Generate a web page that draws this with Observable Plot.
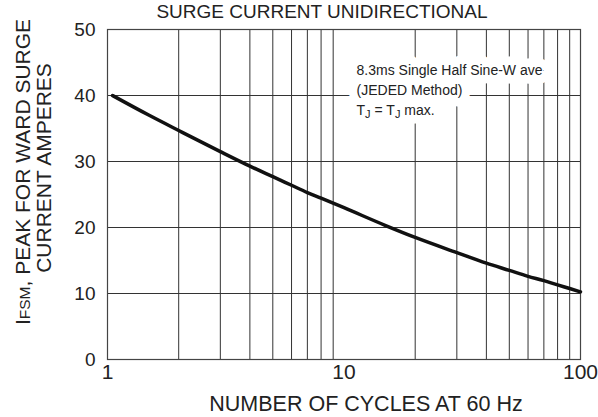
<!DOCTYPE html>
<html>
<head>
<meta charset="utf-8">
<script src="https://cdn.jsdelivr.net/npm/d3@7"></script>
<script src="https://cdn.jsdelivr.net/npm/@observablehq/plot@0.6"></script>
<style>
  html, body { margin: 0; padding: 0; background: #fff; }
  svg { font-family: "Liberation Sans", Arial, sans-serif; }
</style>
</head>
<body>
<div id="chart"></div>
<script>
// Data
const cycles  = [1.05, 1.5, 2, 3, 4, 5, 6, 7, 8, 10, 15, 20, 30, 40, 50, 60, 70, 80, 90, 100];
const current = [40, 37.0, 34.7, 31.5, 29.3, 27.7, 26.4, 25.3, 24.45, 23.0, 20.3, 18.5, 16.2, 14.6, 13.5, 12.6, 11.95, 11.3, 10.75, 10.25];
const xTicks = [1, 10, 100];
const yTicks = [0, 10, 20, 30, 40, 50];
const xGrid = [2, 3, 4, 5, 6, 7, 8, 9, 20, 30, 40, 50, 60, 70, 80, 90];
const yGrid = [10, 20, 30, 40];
const titleText = "SURGE CURRENT UNIDIRECTIONAL";
const xLabel = "NUMBER OF CYCLES AT 60 Hz";
const yLabel1 = ["I", "FSM", ", PEAK FOR WARD SURGE"];
const yLabel2 = "CURRENT AMPERES";
const noteLines = ["8.3ms Single Half Sine-W ave", "(JEDED Method)", "TJ = TJ max."];
const noteAt = {x: 11.3, y: 45.3};

const data = cycles.map((c, i) => ({c, v: current[i]}));
const note = [noteLines.join("\n")];

const W = 598, H = 417;
const noteOpts = {
  x: [noteAt.x], y: [noteAt.y], text: d => d,
  textAnchor: "start", lineAnchor: "top", lineHeight: 1.43, fontSize: 14
};
const chart = Plot.plot({
  width: W, height: H,
  marginLeft: 107, marginRight: 18, marginTop: 29, marginBottom: 58,
  style: {fontFamily: '"Liberation Sans", Arial, sans-serif', background: "#fff", color: "#222"},
  x: {type: "log", domain: [1, 100]},
  y: {domain: [0, 50]},
  marks: [
    Plot.ruleX(xGrid, {stroke: "#333", strokeWidth: 1}),
    Plot.ruleY(yGrid, {stroke: "#333", strokeWidth: 1}),
    Plot.frame({stroke: "#444", strokeWidth: 1.2}),
    Plot.text(note, {...noteOpts, fill: "white", stroke: "white", strokeWidth: 17}),
    Plot.text(note, {...noteOpts, fill: "#222"}),
    Plot.line(data, {x: "c", y: "v", stroke: "#111", strokeWidth: 3.5, curve: "monotone-x"}),
    Plot.axisX({ticks: xTicks, tickFormat: d => String(d), tickSize: 0, tickPadding: 5, fontSize: 21, label: null}),
    Plot.axisY({ticks: yTicks, tickSize: 0, tickPadding: 12, fontSize: 19, label: null})
  ]
});
document.getElementById("chart").appendChild(chart);

const svg = d3.select(chart);

// subscripts in the note
svg.selectAll("tspan").each(function() {
  const t = d3.select(this);
  if (t.text() === "TJ = TJ max.") {
    t.text("");
    t.append("tspan").text("T");
    t.append("tspan").attr("font-size", 11).attr("dy", 3).text("J");
    t.append("tspan").attr("dy", -3).text(" = T");
    t.append("tspan").attr("font-size", 11).attr("dy", 3).text("J");
    t.append("tspan").attr("dy", -3).text(" max.");
  }
});

// title
svg.append("text")
  .attr("x", 322).attr("y", 18)
  .attr("text-anchor", "middle")
  .attr("font-size", 19).attr("fill", "#222")
  .text(titleText);

// x label
svg.append("text")
  .attr("x", 366).attr("y", 411)
  .attr("text-anchor", "middle")
  .attr("font-size", 21.5).attr("fill", "#222")
  .text(xLabel);

// y label (two lines, rotated)
const yl1 = svg.append("text")
  .attr("transform", "translate(30,172) rotate(-90)")
  .attr("text-anchor", "middle")
  .attr("font-size", 21).attr("fill", "#222");
yl1.append("tspan").text(yLabel1[0]);
yl1.append("tspan").attr("font-size", 15.5).text(yLabel1[1]);
yl1.append("tspan").text(yLabel1[2]);
svg.append("text")
  .attr("transform", "translate(51,168) rotate(-90)")
  .attr("text-anchor", "middle")
  .attr("font-size", 21).attr("fill", "#222")
  .text(yLabel2);
</script>
</body>
</html>
